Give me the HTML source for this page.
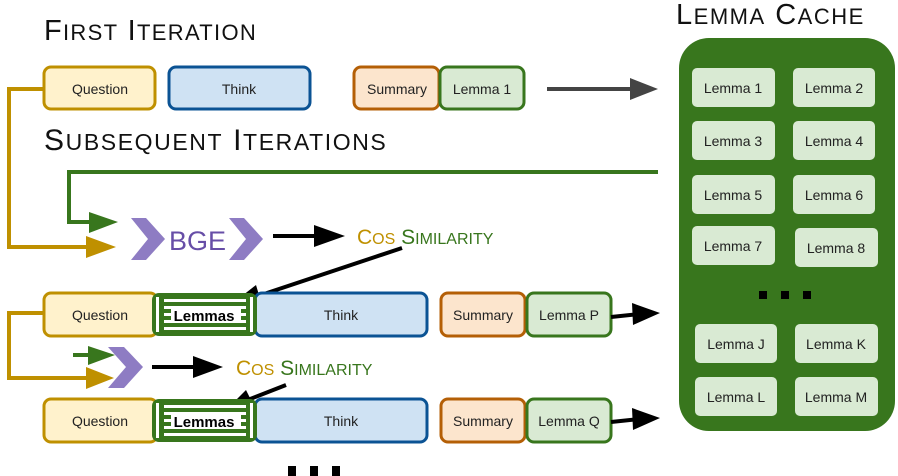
<!DOCTYPE html>
<html><head><style>
html,body{margin:0;padding:0;background:#fff;}
svg{display:block;}
text{font-family:"Liberation Sans",sans-serif;}
</style></head><body>
<svg width="898" height="476" viewBox="0 0 898 476" xmlns="http://www.w3.org/2000/svg">
<defs>
<g id="lem">
<rect x="0" y="0" width="105" height="43" rx="7" fill="#38761d"/>
<rect x="12" y="6" width="82" height="3" fill="#fff"/>
<rect x="12" y="13" width="82" height="3" fill="#fff"/>
<rect x="12" y="20" width="82" height="3" fill="#fff"/>
<rect x="12" y="27" width="82" height="3" fill="#fff"/>
<rect x="12" y="34" width="82" height="3" fill="#fff"/>
<rect x="4" y="4" width="3" height="35" fill="#fff"/>
<rect x="98" y="4" width="3" height="35" fill="#fff"/>
<rect x="19" y="13" width="70" height="17" fill="#fff"/>
<text x="52" y="28" font-size="15" text-anchor="middle" fill="#000" font-weight="bold">Lemmas</text>
</g>
</defs>

<text x="44" y="40" font-size="29" fill="#111" letter-spacing="1.3">F<tspan font-size="22">IRST</tspan> I<tspan font-size="22">TERATION</tspan></text>
<text x="44" y="150" font-size="30" fill="#111" letter-spacing="1.6">S<tspan font-size="23">UBSEQUENT</tspan> I<tspan font-size="23">TERATIONS</tspan></text>
<text x="676" y="24" font-size="29" fill="#111" letter-spacing="1.5">L<tspan font-size="22">EMMA</tspan> C<tspan font-size="22">ACHE</tspan></text>

<g font-size="14" text-anchor="middle" fill="#222">
<rect x="44" y="67" width="111" height="42" rx="7" fill="#fff2cc" stroke="#bf9000" stroke-width="3"/>
<text x="100" y="94">Question</text>
<rect x="169" y="67" width="141" height="42" rx="7" fill="#cfe2f3" stroke="#0b5394" stroke-width="3"/>
<text x="239" y="94">Think</text>
<rect x="354" y="67" width="85" height="42" rx="7" fill="#fce5cd" stroke="#b45f06" stroke-width="3"/>
<text x="397" y="94">Summary</text>
<rect x="440" y="67" width="84" height="42" rx="7" fill="#d9ead3" stroke="#38761d" stroke-width="3"/>
<text x="482" y="94">Lemma 1</text>
</g>
<line x1="547" y1="89" x2="635" y2="89" stroke="#444" stroke-width="4"/>
<path d="M630,78 L658,89 L630,100z" fill="#444"/>

<rect x="679" y="38" width="216" height="393" rx="30" fill="#38761d"/>
<g font-size="14" text-anchor="middle" fill="#222">
<rect x="692" y="68" width="83" height="39" rx="5" fill="#d9ead3"/><text x="733" y="93">Lemma 1</text>
<rect x="793" y="68" width="82" height="39" rx="5" fill="#d9ead3"/><text x="834" y="93">Lemma 2</text>
<rect x="692" y="121" width="83" height="39" rx="5" fill="#d9ead3"/><text x="733" y="146">Lemma 3</text>
<rect x="793" y="121" width="82" height="39" rx="5" fill="#d9ead3"/><text x="834" y="146">Lemma 4</text>
<rect x="692" y="175" width="83" height="39" rx="5" fill="#d9ead3"/><text x="733" y="200">Lemma 5</text>
<rect x="793" y="175" width="82" height="39" rx="5" fill="#d9ead3"/><text x="834" y="200">Lemma 6</text>
<rect x="692" y="226" width="83" height="39" rx="5" fill="#d9ead3"/><text x="733" y="251">Lemma 7</text>
<rect x="795" y="228" width="83" height="39" rx="5" fill="#d9ead3"/><text x="836" y="253">Lemma 8</text>
<rect x="695" y="324" width="82" height="39" rx="5" fill="#d9ead3"/><text x="736" y="349">Lemma J</text>
<rect x="795" y="324" width="83" height="39" rx="5" fill="#d9ead3"/><text x="836" y="349">Lemma K</text>
<rect x="695" y="377" width="82" height="39" rx="5" fill="#d9ead3"/><text x="736" y="402">Lemma L</text>
<rect x="795" y="377" width="83" height="39" rx="5" fill="#d9ead3"/><text x="836" y="402">Lemma M</text>
</g>
<rect x="759" y="291" width="8" height="8" fill="#000"/>
<rect x="781" y="291" width="8" height="8" fill="#000"/>
<rect x="803" y="291" width="8" height="8" fill="#000"/>

<polyline points="44,89 9,89 9,247 95,247" fill="none" stroke="#bf9000" stroke-width="4"/>
<path d="M86,236 L116,247 L86,258z" fill="#bf9000"/>
<polyline points="658,172 69,172 69,222 98,222" fill="none" stroke="#38761d" stroke-width="4"/>
<path d="M89,212 L118,222 L89,233z" fill="#38761d"/>
<path d="M131,218 L146,218 L165,239 L146,260 L131,260 L148,239z" fill="#8e7cc3"/>
<text x="169" y="250" font-size="27" fill="#674ea7">BGE</text>
<path d="M229,218 L244,218 L263,239 L244,260 L229,260 L246,239z" fill="#8e7cc3"/>
<line x1="273" y1="236" x2="320" y2="236" stroke="#000" stroke-width="4"/>
<path d="M314,225 L345,236 L314,247z" fill="#000"/>
<text x="357" y="244" font-size="21" fill="#bf9000">C<tspan font-size="16">OS</tspan> <tspan fill="#38761d">S<tspan font-size="16">IMILARITY</tspan></tspan></text>
<line x1="402" y1="248" x2="258" y2="296" stroke="#000" stroke-width="4"/>
<path d="M256,285 L233,303 L262,305z" fill="#000"/>

<g font-size="14" text-anchor="middle" fill="#222">
<rect x="44" y="293" width="113" height="43" rx="7" fill="#fff2cc" stroke="#bf9000" stroke-width="3"/>
<text x="100" y="320">Question</text>
<rect x="255" y="293" width="172" height="43" rx="7" fill="#cfe2f3" stroke="#0b5394" stroke-width="3"/>
<text x="341" y="320">Think</text>
<rect x="441" y="293" width="84" height="43" rx="7" fill="#fce5cd" stroke="#b45f06" stroke-width="3"/>
<text x="483" y="320">Summary</text>
<rect x="527" y="293" width="84" height="43" rx="7" fill="#d9ead3" stroke="#38761d" stroke-width="3"/>
<text x="569" y="320">Lemma P</text>
</g>
<use href="#lem" x="152" y="293"/>
<line x1="611" y1="317" x2="640" y2="314" stroke="#000" stroke-width="4"/>
<path d="M632,303 L660,313 L633,325z" fill="#000"/>

<polyline points="44,313 9,313 9,378 90,378" fill="none" stroke="#bf9000" stroke-width="4"/>
<path d="M86,367 L114,378 L86,389z" fill="#bf9000"/>
<line x1="73" y1="355" x2="95" y2="355" stroke="#38761d" stroke-width="4"/>
<path d="M88,346 L115,355 L88,365z" fill="#38761d"/>
<path d="M108,347 L124,347 L143,367 L124,388 L108,388 L126,367z" fill="#8e7cc3"/>
<line x1="152" y1="367" x2="198" y2="367" stroke="#000" stroke-width="4"/>
<path d="M193,356 L223,367 L193,378z" fill="#000"/>
<text x="236" y="375" font-size="21" fill="#bf9000">C<tspan font-size="16">OS</tspan> <tspan fill="#38761d">S<tspan font-size="16">IMILARITY</tspan></tspan></text>
<line x1="286" y1="385" x2="245" y2="401" stroke="#000" stroke-width="4"/>
<path d="M246,390 L226,410 L255,408z" fill="#000"/>

<g font-size="14" text-anchor="middle" fill="#222">
<rect x="44" y="399" width="113" height="43" rx="7" fill="#fff2cc" stroke="#bf9000" stroke-width="3"/>
<text x="100" y="426">Question</text>
<rect x="255" y="399" width="172" height="43" rx="7" fill="#cfe2f3" stroke="#0b5394" stroke-width="3"/>
<text x="341" y="426">Think</text>
<rect x="441" y="399" width="84" height="43" rx="7" fill="#fce5cd" stroke="#b45f06" stroke-width="3"/>
<text x="483" y="426">Summary</text>
<rect x="527" y="399" width="84" height="43" rx="7" fill="#d9ead3" stroke="#38761d" stroke-width="3"/>
<text x="569" y="426">Lemma Q</text>
</g>
<use href="#lem" x="152" y="399"/>
<line x1="611" y1="422" x2="640" y2="419" stroke="#000" stroke-width="4"/>
<path d="M632,408 L660,418 L633,430z" fill="#000"/>

<rect x="288" y="466" width="8" height="10" fill="#000"/>
<rect x="310" y="466" width="8" height="10" fill="#000"/>
<rect x="332" y="466" width="8" height="10" fill="#000"/>
</svg>
</body></html>
